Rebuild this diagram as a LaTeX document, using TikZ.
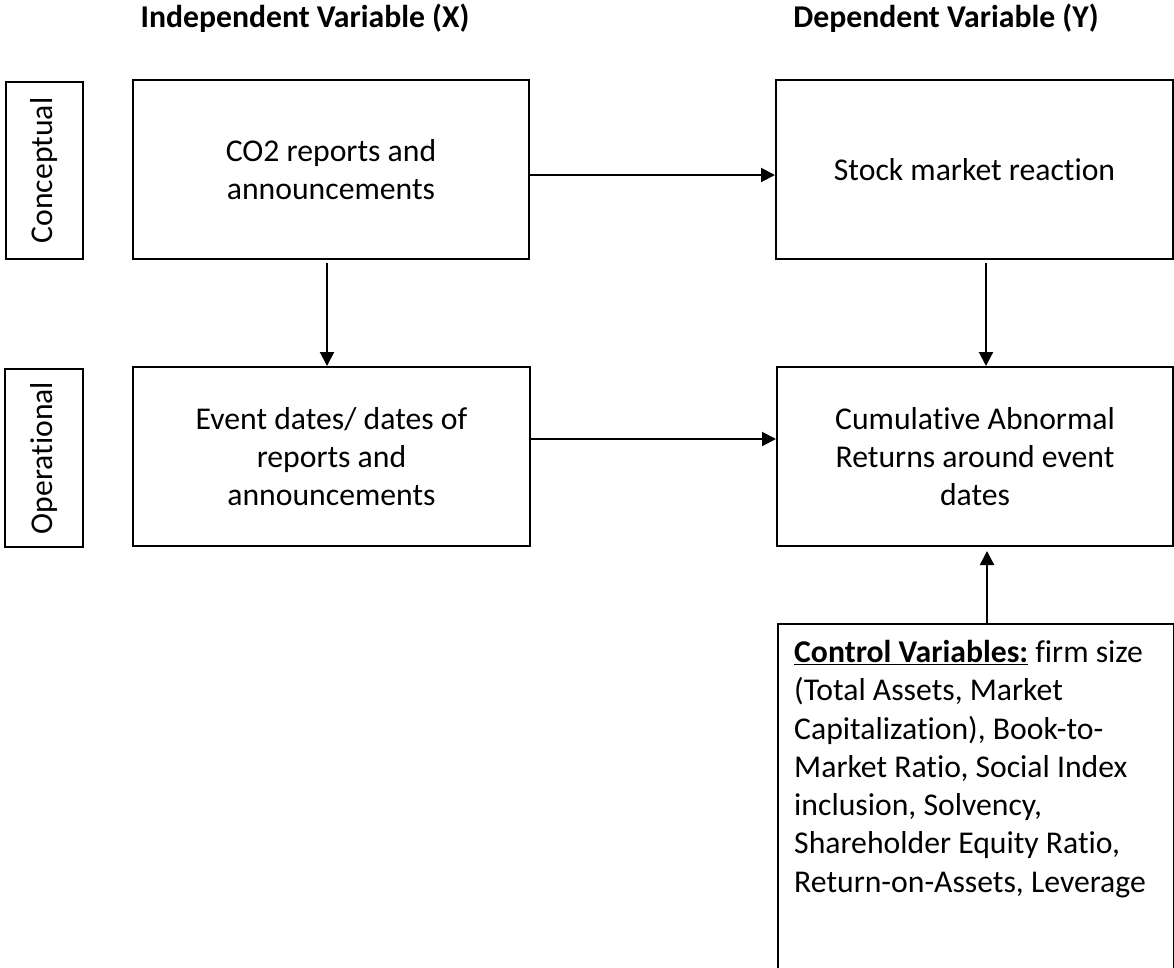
\documentclass[tikz,border=0pt]{standalone}
\usepackage{fontspec}
\usepackage{graphicx}
\setmainfont{Carlito}[Ligatures=NoCommon]
\usetikzlibrary{arrows.meta}
\newcommand\dgfont{\fontsize{31.7}{38.3}\selectfont}
\begin{document}
\begin{tikzpicture}[x=1pt,y=-1pt,
  box/.style={draw, line width=2pt, inner sep=0pt, align=center, font=\dgfont},
  sidebox/.style={draw, line width=2pt, inner sep=0pt, font=\dgfont},
  arr/.style={-{Triangle[length=14pt,width=14pt]}, line width=2pt},
  ttl/.style={font=\dgfont\bfseries, inner sep=0pt, anchor=base}]
\useasboundingbox (0,0) rectangle (1174,967);
\clip (0,0) rectangle (1174,967);

\node[ttl] (tx) at (305,27.5) {Independent Variable (X)};
\node[ttl] (ty) at (946,27.5) {Dependent Variable (Y)};

\node[sidebox, minimum width=77pt, minimum height=177pt] (concept) at (44.3,170.5) {\rotatebox{90}{Conceptual}};
\node[sidebox, minimum width=78pt, minimum height=178pt] (oper) at (44,458) {\rotatebox{90}{Operational}};

\node[box, minimum width=396pt, minimum height=179pt] (co2) at (331,169.5) {CO2 reports and\\announcements};
\node[box, minimum width=397pt, minimum height=179pt] (stock) at (974.5,169.5) {Stock market reaction};
\node[box, minimum width=397pt, minimum height=179pt] (event) at (331.5,456.5) {Event dates/ dates of\\reports and\\announcements};
\node[box, minimum width=396pt, minimum height=179pt] (car) at (975,456.5) {Cumulative Abnormal\\Returns around event\\dates};

\node[draw, line width=2pt, inner sep=0pt, anchor=north west, minimum width=396pt, minimum height=420pt] (ctrl) at (777,623) {};
\node[inner sep=0pt, anchor=north west, align=left, font=\dgfont] (ctrltxt) at (794,640)
 {\underline{\textbf{Control Variables:}} firm size\\(Total Assets, Market\\Capitalization), Book-to-\\Market Ratio, Social Index\\inclusion, Solvency,\\Shareholder Equity Ratio,\\Return-on-Assets, Leverage};

\coordinate (a1) at ([xshift=-4pt]co2.south);
\coordinate (a2) at ([xshift=11.5pt]stock.south);
\coordinate (a3) at ([yshift=17.5pt]event.east);
\coordinate (a4) at ([xshift=11pt]ctrl.north);

\draw[arr] ([yshift=-5.5pt]co2.east) -- ([yshift=-5.5pt]stock.west);
\draw[arr, shorten <=3pt] (a1) -- (a1 |- event.north);
\draw[arr, shorten <=3pt] (a2) -- (a2 |- car.north);
\draw[arr] (a3) -- (a3 -| car.west);
\draw[arr, shorten >=4pt] (a4) -- (a4 |- car.south);
\end{tikzpicture}
\end{document}
